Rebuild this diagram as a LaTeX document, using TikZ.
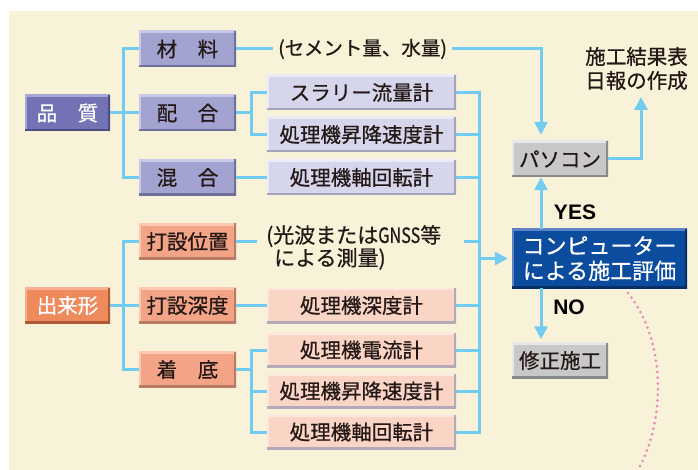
\documentclass[tikz,border=0pt]{standalone}
\usepackage{fontspec}
\usepackage{graphicx}
\setmainfont{Noto Sans CJK JP}[FakeBold=0.6]
\newfontfamily\ynfont{Liberation Sans}
\usetikzlibrary{arrows.meta,calc}
\definecolor{cream}{HTML}{F8F3D8}
\definecolor{conn}{HTML}{72CBF0}
\definecolor{pinkd}{HTML}{EE88BB}
\definecolor{qA}{HTML}{7272B4}\definecolor{qAl}{HTML}{A8A8D8}\definecolor{qAd}{HTML}{4C4C88}
\definecolor{qB}{HTML}{A3A3D1}\definecolor{qBl}{HTML}{C8C8E8}\definecolor{qBd}{HTML}{707099}
\definecolor{qC}{HTML}{D5D5EC}\definecolor{qCl}{HTML}{ECECF8}\definecolor{qCd}{HTML}{A3A3BB}
\definecolor{dA}{HTML}{EE8A5C}\definecolor{dAl}{HTML}{F7B090}\definecolor{dAd}{HTML}{B05A35}
\definecolor{dB}{HTML}{F3A486}\definecolor{dBl}{HTML}{FBC8B0}\definecolor{dBd}{HTML}{B97A66}
\definecolor{dC}{HTML}{FAD5C6}\definecolor{dCl}{HTML}{FDE8E0}\definecolor{dCd}{HTML}{B3A9B8}
\definecolor{gA}{HTML}{C8C8C8}\definecolor{gAl}{HTML}{E8E8E8}\definecolor{gAd}{HTML}{8A8A8A}
\definecolor{bA}{HTML}{0B4C9E}\definecolor{bAl}{HTML}{5C84C4}\definecolor{bAd}{HTML}{082F66}
\definecolor{ink}{HTML}{231815}
\tikzset{
  bx/.style n args={4}{fill=#1, inner sep=0pt, text=#4,
    font=\fontsize{20.5}{24}\selectfont,
    path picture={
      \draw[line width=4.4pt,#2] (path picture bounding box.south west) -- (path picture bounding box.north west) -- (path picture bounding box.north east);
      \draw[line width=4.4pt,#3] (path picture bounding box.south west) -- (path picture bounding box.south east) -- (path picture bounding box.north east);
    }},
  lone/.style={minimum width=85pt, minimum height=36pt},
  ltwo/.style={minimum width=97pt, minimum height=36pt},
  lthree/.style={minimum width=189pt, minimum height=35pt},
  lq/.style={bx={qA}{qAl}{qAd}{white}, lone},
  mq/.style={bx={qB}{qBl}{qBd}{ink}, ltwo},
  sq/.style={bx={qC}{qCl}{qCd}{ink}, lthree},
  ld/.style={bx={dA}{dAl}{dAd}{white}, lone},
  md/.style={bx={dB}{dBl}{dBd}{ink}, ltwo},
  sd/.style={bx={dC}{dCl}{dCd}{ink}, lthree},
  gbox/.style={bx={gA}{gAl}{gAd}{ink}, minimum width=96pt, minimum height=36pt},
  bbox/.style={bx={bA}{bAl}{bAd}{white}, minimum width=175pt, minimum height=59pt,
    align=center, font=\fontsize{22}{25}\selectfont},
  plain/.style={text=ink, inner sep=2pt, font=\fontsize{20.5}{21}\selectfont},
  yn/.style={text=black, inner sep=0pt, font=\ynfont\bfseries\fontsize{21}{24}\selectfont},
  cn/.style={draw=conn, line width=3pt},
  ar/.style={cn, -{Triangle[length=13pt,width=13pt]}},
  pdots/.style={draw=pinkd, line width=3pt, line cap=round, dash pattern=on 0pt off 5.7pt},
}
\begin{document}
\begin{tikzpicture}[x=1pt,y=-1pt]
\useasboundingbox (0,0) rectangle (698,470);
\fill[white] (0,0) rectangle (698,470);
\fill[cream] (9,11) rectangle (698,470);

% quality group
\node[lq] (q) at (67.5,113) {品　質};
\node[mq] (zai) at (187.5,49) {材　料};
\node[mq] (hai) at (187.5,113) {配　合};
\node[mq] (kon) at (187.5,177.5) {混　合};
\node[sq] (s1) at (361.5,92.5) {スラリー流量計};
\node[sq] (s2) at (361.5,134.5) {処理機昇降速度計};
\node[sq] (s3) at (361.5,177.5) {処理機軸回転計};

% shape group
\node[ld] (d) at (67.5,305.5) {出来形};
\node[md] (uc) at (187.5,241.5) {打設位置};
\node[md] (sh) at (187.5,305.5) {打設深度};
\node[md] (ct) at (187.5,369.5) {着　底};
\node[sd] (s4) at (361.5,305.5) {処理機深度計};
\node[sd] (s5) at (361.5,350) {処理機電流計};
\node[sd] (s6) at (361.5,391) {処理機昇降速度計};
\node[sd] (s7) at (361.5,432) {処理機軸回転計};

% texts
\node[plain, anchor=west, inner sep=5pt, font=\fontsize{19.5}{21}\selectfont] (cem) at (273,49) {(セメント量、水量)};
\node[plain, anchor=west, align=left, font=\fontsize{21}{21}\selectfont] (gnss) at (264,247.5) {(光波または\resizebox{42pt}{\height}{GNSS}等\\\hspace*{8pt}による測量)};
\node[plain, align=left, font=\fontsize{20.5}{24}\selectfont] (res) at (636.5,68.5) {施工結果表\\日報の作成};

% right side
\node[gbox] (pc) at (560,159) {パソコン};
\node[bbox] (cp) at (599.5,258.5) {コンピューター\\による施工評価};
\node[gbox] (fix) at (560,360.5) {修正施工};
\node[yn] (yes) at (575,212.5) {YES};
\node[yn] (no) at (569,307) {NO};

% helper coordinates
\coordinate (bus) at (479,0);
\coordinate (ax) at (541,0);
\coordinate (ra) at (641,97);
\coordinate (gl) at (257,241.5);
\coordinate (gr) at (464,241.5);

% quality connectors
\draw[cn] (q.east) -- (hai.west);
\draw[cn] (zai.west) -- ++(-15,0) |- (kon.west);
\draw[cn] (hai.east) -- ++(16,0);
\draw[cn] (s1.west) -- ++(-15,0) |- (s2.west);
\draw[cn] (kon.east) -- (s3.west);
\draw[cn] (zai.east) -- (cem.west);

% shape connectors
\draw[cn] (d.east) -- (sh.west);
\draw[cn] (uc.west) -- ++(-15,0) |- (ct.west);
\draw[cn] (uc.east) -- (gl);
\draw[cn] (sh.east) -- (s4.west);
\draw[cn] (ct.east) -- ++(16,0);
\draw[cn] (s5.west) -- ++(-15,0) |- (s7.west);
\draw[cn] (s6.west) -- ++(-15,0);

% bus
\draw[cn] (s1.east) -| (bus |- s7.east) -- (s7.east);
\foreach \n in {s2,s3,s4,s5,s6} \draw[cn] (\n.east) -- (bus |- \n.east);
\draw[cn] (gr) -- (bus |- gr);
\draw[ar, shorten >=4pt] (bus |- cp.west) -- (cp.west);

% arrows on the right
\draw[ar, shorten >=6pt] (cem.east) -| (ax |- pc.north);
\draw[ar] (ax |- cp.north) -- (ax |- pc.south);
\draw[ar, shorten >=3pt] (ax |- cp.south) -- (ax |- fix.north);
\draw[ar] (pc.east) -| (ra);

% dotted arc
\draw[pdots] (628,293) .. controls (666,340) and (666,420) .. (638,470);
\end{tikzpicture}
\end{document}
